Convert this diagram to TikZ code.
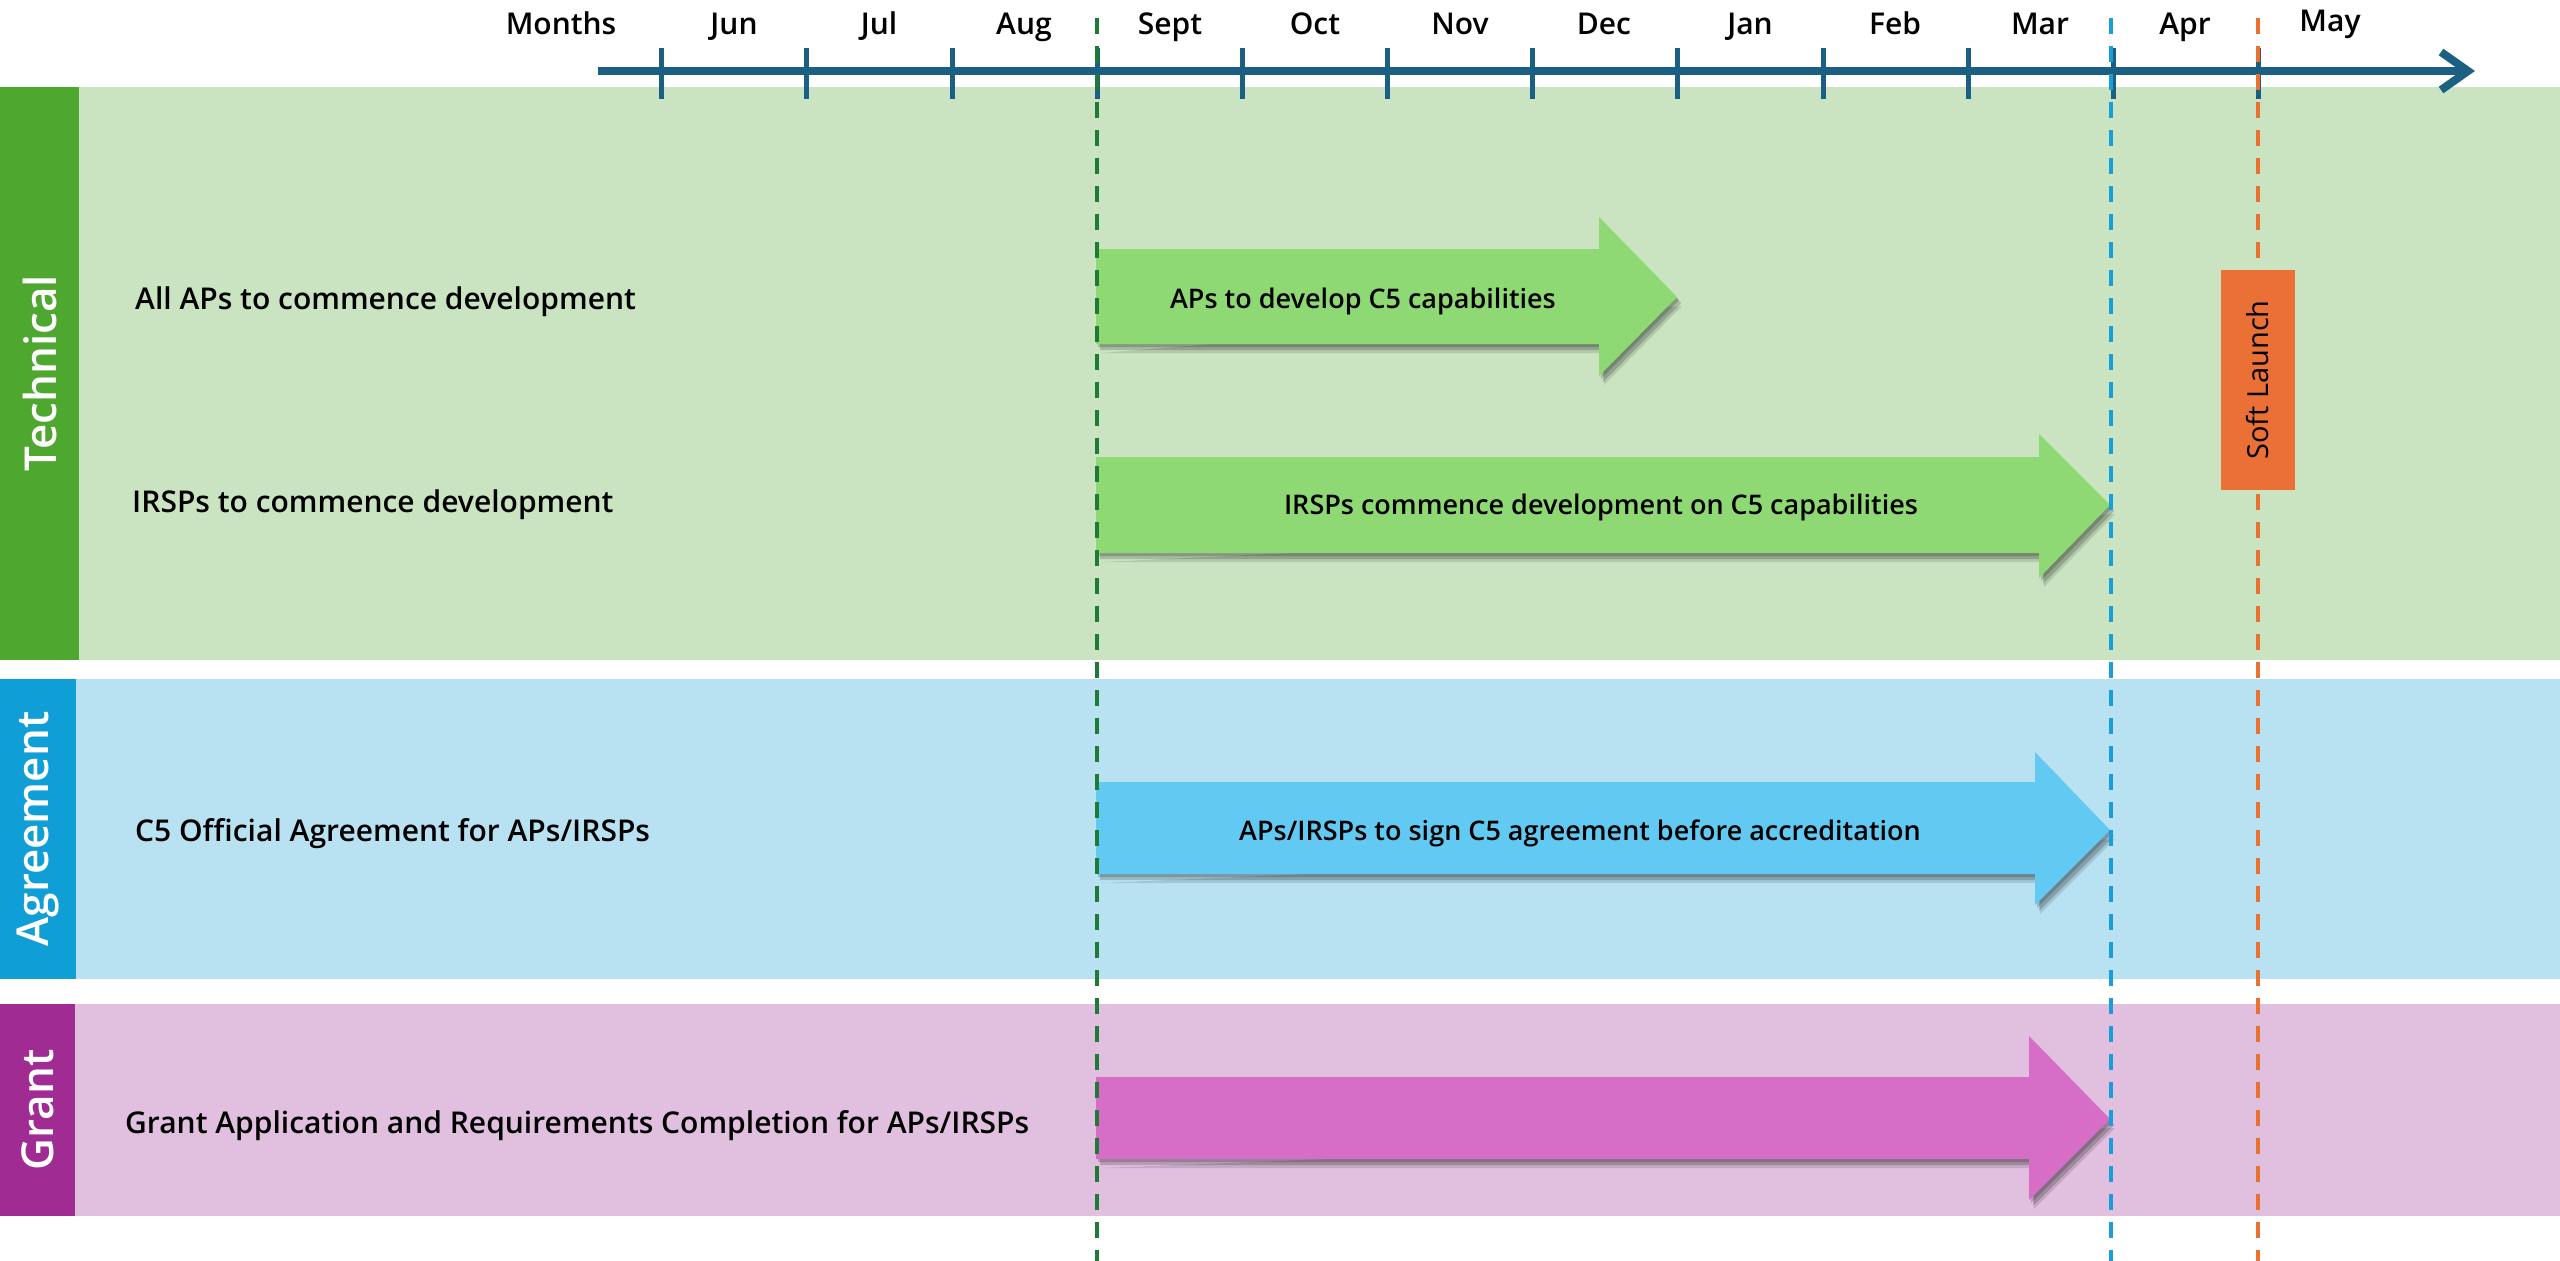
\documentclass[tikz,border=0pt]{standalone}
\usepackage{fontspec}
\IfFontExistsTF{Open Sans Semibold}{\setmainfont{Open Sans}[BoldFont={Open Sans Semibold}]}{\setmainfont{Open Sans}}
\usetikzlibrary{shadows}
\definecolor{techbar}{HTML}{4EA72E}
\definecolor{techband}{HTML}{CAE4C1}
\definecolor{agrbar}{HTML}{0F9ED5}
\definecolor{agrband}{HTML}{B8E2F2}
\definecolor{grantbar}{HTML}{A02B93}
\definecolor{grantband}{HTML}{E1BFDF}
\definecolor{axiscol}{HTML}{1B5F82}
\definecolor{arrgreen}{HTML}{8FD974}
\definecolor{arrblue}{HTML}{62CAF2}
\definecolor{arrmag}{HTML}{D66EC8}
\definecolor{launchcol}{HTML}{EA7035}
\definecolor{dashgreen}{HTML}{1F7A35}
\definecolor{dashblue}{HTML}{1A9ED9}
\definecolor{dashorange}{HTML}{E97132}
\newcommand\blkarrow[9]{%
  \path[fill=black, opacity=0.12] ([shift={(5,9)}]#1,#3) -- ([shift={(5,9)}]#4,#3) -- ([shift={(5,9)}]#4,#6) -- ([shift={(5,9)}]#7,#8) -- cycle;
  \path[fill=black, opacity=0.18] ([shift={(4,6)}]#1,#2) -- ([shift={(4,6)}]#4,#2) -- ([shift={(4,6)}]#4,#5) -- ([shift={(4,6)}]#7,#8) -- ([shift={(4,6)}]#4,#6) -- ([shift={(4,6)}]#4,#3) -- ([shift={(4,6)}]#1,#3) -- cycle;
  \path[fill=black, opacity=0.18] ([shift={(2,3)}]#1,#2) -- ([shift={(2,3)}]#4,#2) -- ([shift={(2,3)}]#4,#5) -- ([shift={(2,3)}]#7,#8) -- ([shift={(2,3)}]#4,#6) -- ([shift={(2,3)}]#4,#3) -- ([shift={(2,3)}]#1,#3) -- cycle;
  \path[fill=#9] (#1,#2) -- (#4,#2) -- (#4,#5) -- (#7,#8) -- (#4,#6) -- (#4,#3) -- (#1,#3) -- cycle;}
\begin{document}
\begin{tikzpicture}[x=1pt,y=-1pt,
  month/.style={font=\fontsize{30}{36}\selectfont\bfseries, anchor=base, inner sep=0},
  rowlabel/.style={font=\fontsize{30}{36}\selectfont\bfseries, anchor=base west, inner sep=0},
  armtext/.style={font=\fontsize{27}{32}\selectfont\bfseries, anchor=base, inner sep=0},
  sidebar/.style={rotate=90, text=white, inner sep=0, font=\fontsize{44}{52}\selectfont\bfseries},
  vdash/.style={line width=4pt, dash pattern=on 16pt off 12pt},
  tick/.style={line width=5pt, draw=axiscol}]
\useasboundingbox (0,0) rectangle (2560,1261);
\fill[white] (0,0) rectangle (2560,1261);
% bands
\fill[techband] (0,87) rectangle (2560,660);
\fill[agrband] (0,679) rectangle (2560,979);
\fill[grantband] (0,1004) rectangle (2560,1216);
\node[sidebar, fill=techbar, minimum width=573pt, minimum height=79pt] (tech) at (39.5,373.5) {Technical};
\node[sidebar, fill=agrbar, minimum width=300pt, minimum height=76pt] (agr) at (38,829) {Agreement};
\node[sidebar, fill=grantbar, minimum width=212pt, minimum height=75pt] (grant) at (37.5,1110) {Grant};
% axis
\coordinate (axstart) at (598,71);
\coordinate (axend) at (2466,71);
\draw[axiscol, line width=8pt] (axstart) -- (axend);
\draw[axiscol, line width=8pt, line join=miter] (2441,52) -- (2468,71) -- (2441,90);
\foreach \x in {661,806,952,1097,1242,1387,1532,1677,1823,1968,2113,2258}
  \draw[tick] (\x,48) -- (\x,99);
\node[month] (mMonths) at (561,34) {Months};
\node[month] (mJun) at (734,34) {Jun};
\node[month] (mJul) at (879,34) {Jul};
\node[month] (mAug) at (1024,34) {Aug};
\node[month] (mSep) at (1170,34) {Sept};
\node[month] (mOct) at (1315,34) {Oct};
\node[month] (mNov) at (1460,34) {Nov};
\node[month] (mDec) at (1604,34) {Dec};
\node[month] (mJan) at (1750,34) {Jan};
\node[month] (mFeb) at (1895,34) {Feb};
\node[month] (mMar) at (2040,34) {Mar};
\node[month] (mApr) at (2185,34) {Apr};
\node[month] (mMay) at (2330,31) {May};
% row labels
\node[rowlabel] (r1) at (135,309) {All APs to commence development};
\node[rowlabel] (r2) at (132,512) {IRSPs to commence development};
\node[rowlabel] (r3) at (135,841) {C5 Official Agreement for APs/IRSPs};
\node[rowlabel] (r4) at (125,1133) {Grant Application and Requirements Completion for APs/IRSPs};
% block arrows
\blkarrow{1096}{249}{344}{1599}{217}{376}{1677}{297}{arrgreen}
\blkarrow{1096}{457}{553}{2039}{434}{578}{2110}{505}{arrgreen}
\blkarrow{1096}{782}{874}{2035}{752}{905}{2110}{830}{arrblue}
\blkarrow{1096}{1077}{1159}{2029}{1036}{1200}{2110}{1119}{arrmag}
\node[armtext] (a1) at (1363,308) {APs to develop C5 capabilities};
\node[armtext] (a2) at (1601,514) {IRSPs commence development on C5 capabilities};
\node[armtext] (a3) at (1580,840) {APs/IRSPs to sign C5 agreement before accreditation};
% dashed milestone lines
\coordinate (gtop) at (1097,18); \coordinate (gbot) at (1097,1261);
\coordinate (btop) at (2111,18); \coordinate (bbot) at (2111,1261);
\coordinate (otop) at (2258,18); \coordinate (obot) at (2258,1261);
\draw[vdash, dashgreen] (gtop) -- (gbot);
\draw[vdash, dashblue] (btop) -- (bbot);
\draw[vdash, dashorange] (otop) -- (obot);
% soft launch
\node[rotate=90, fill=launchcol, minimum width=220pt, minimum height=74pt, inner sep=0, font=\fontsize{29}{34}\selectfont] (launch) at (2258,380) {Soft Launch};
\end{tikzpicture}
\end{document}
